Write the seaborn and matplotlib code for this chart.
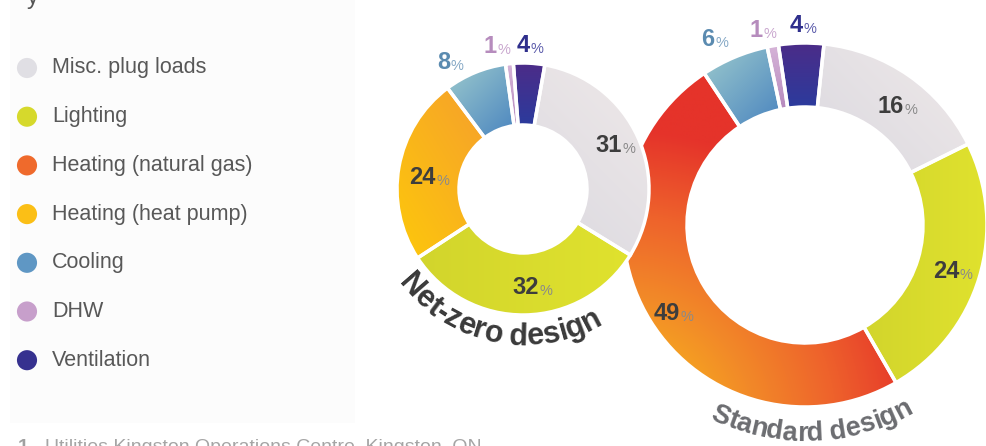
import numpy as np
import pandas as pd
import matplotlib.pyplot as plt
import seaborn as sns
from matplotlib.colors import LinearSegmentedColormap, to_rgb
from matplotlib.patches import Rectangle

# Energy use by end use, % of total
categories = ['Misc. plug loads', 'Lighting', 'Heating (natural gas)', 'Heating (heat pump)',
              'Cooling', 'DHW', 'Ventilation']
net_zero_uses = ['Misc. plug loads', 'Lighting', 'Heating (heat pump)', 'Cooling', 'DHW', 'Ventilation']
net_zero_pct = [31, 32, 24, 8, 1, 4]
standard_uses = ['Misc. plug loads', 'Lighting', 'Heating (natural gas)', 'Cooling', 'DHW', 'Ventilation']
standard_pct = [16, 24, 49, 6, 1, 4]
ring_titles = ['Net-zero design', 'Standard design']
footnote = 'Utilities Kingston Operations Centre, Kingston, ON'

# colours
flat = {'Misc. plug loads': '#e0dfe4', 'Lighting': '#d6d92c', 'Heating (natural gas)': '#ef6a2c',
        'Heating (heat pump)': '#fbbf16', 'Cooling': '#5f97c4', 'DHW': '#c79fcb', 'Ventilation': '#36318f'}
grad = {'Misc. plug loads': ('#dbd9e0', '#efe9e9', (1, 1)),
        'Lighting': ('#d2d52c', '#e0e22e', (1, 0)),
        'Heating (heat pump)': ('#fdc80b', '#f6a02c', (1, 0.6)),
        'Cooling': ('#9ccacd', '#4a84bf', (1, -1)),
        'DHW': ('#d6b4d8', '#b689bd', (0, -1)),
        'Ventilation': ('#4c2c88', '#2b3b9d', (0, -1))}
label_cols = {'Cooling': ('#5b8bb0', '#86a9c6'), 'DHW': ('#b68cbd', '#caa8cf'),
              'Ventilation': ('#2f2f8c', '#5c5cab')}

sns.set_style('white')
plt.rcParams['font.family'] = ['Liberation Sans', 'DejaVu Sans']

W, H = 987, 446
fig = plt.figure(figsize=(9.87, 4.46), dpi=100)
ax = fig.add_axes([0, 0, 1, 1])
renderer = fig.canvas.get_renderer()


def paint(wedge, c0, c1, direction, z):
    bb = wedge.get_path().get_extents()
    X, Y = np.meshgrid(np.linspace(bb.x0, bb.x1, int(bb.width) + 2),
                       np.linspace(bb.y0, bb.y1, int(bb.height) + 2))
    d = np.array(direction, float) / np.hypot(*direction)
    p = X * d[0] + Y * d[1]
    t = ((p - p.min()) / (p.max() - p.min() + 1e-9))[..., None]
    img = (1 - t) * np.array(to_rgb(c0)) + t * np.array(to_rgb(c1))
    im = ax.imshow(img, extent=(bb.x0, bb.x1, bb.y0, bb.y1), origin='lower', zorder=z)
    im.set_clip_path(wedge)
    wedge.set_facecolor('none')


def paint_radial(wedge, origin, z):
    bb = wedge.get_path().get_extents()
    X, Y = np.meshgrid(np.linspace(bb.x0, bb.x1, int(bb.width) + 2),
                       np.linspace(bb.y0, bb.y1, int(bb.height) + 2))
    t = np.clip((np.hypot(X - origin[0], Y - origin[1]) - 50) / 250, 0, 1)
    cmap = LinearSegmentedColormap.from_list('gas', ['#f8b41c', '#f28a28', '#ee622c', '#e5332a'])
    im = ax.imshow(cmap(t)[..., :3], extent=(bb.x0, bb.x1, bb.y0, bb.y1), origin='lower', zorder=z)
    im.set_clip_path(wedge)
    wedge.set_facecolor('none')


def pct_label(c, ang, r, value, cols, fs=17):
    x = c[0] + r * np.cos(np.radians(ang))
    y = c[1] + r * np.sin(np.radians(ang))
    fpx = fs / 0.72
    wn = len(str(value)) * 0.556 * fpx
    wp = 0.889 * fs * 0.62 / 0.72
    split = x + (wn - wp) / 2
    yb = y - 0.36 * fpx
    ax.text(split, yb, str(value), ha='right', va='baseline', fontsize=fs,
            fontweight='bold', color=cols[0], zorder=10)
    ax.text(split + 0.5, yb - 1, '%', ha='left', va='baseline', fontsize=fs * 0.62,
            color=cols[1], zorder=10)


def curved_text(c, txt, r, mid, fs, color):
    widths = []
    for ch in txt:
        t = ax.text(0, 0, 'n' if ch == ' ' else ch, fontsize=fs, fontweight='bold')
        w = t.get_window_extent(renderer).width
        widths.append(w * 0.45 if ch == ' ' else w)
        t.remove()
    a = np.radians(mid) - sum(widths) / r / 2
    cum = 0
    for ch, w in zip(txt, widths):
        ang = a + (cum + w / 2) / r
        ax.text(c[0] + r * np.cos(ang), c[1] + r * np.sin(ang), ch, rotation=np.degrees(ang) + 90,
                rotation_mode='anchor', ha='center', va='baseline', fontsize=fs,
                fontweight='bold', color=color, zorder=10)
        cum += w


rings = [
    dict(uses=net_zero_uses, vals=net_zero_pct, center=(523, H - 189), radius=126, width=62,
         start=80, z=4, title_r=156, title_mid=-101, title_fs=22, title_col='#3a3a3a',
         lab=[(2, 103), (4.5, 97), (2, 95), (7, 148), (4, 147), (0, 146)]),
    dict(uses=standard_uses, vals=standard_pct, center=(805, H - 225), radius=182, width=64,
         start=84, z=2, title_r=216, title_mid=-88, title_fs=19.5, title_col='#6b6c70',
         lab=[(-2.5, 152), (0, 154), (1.6, 158), (3, 208), (2, 201), (-0.6, 202)]),
]

for ring, title in zip(rings[::-1], ring_titles[::-1]):
    wedges, _ = ax.pie(ring['vals'], colors=[flat[u] for u in ring['uses']], startangle=ring['start'],
                       counterclock=False, radius=ring['radius'], center=ring['center'],
                       wedgeprops=dict(width=ring['width'], edgecolor='white', linewidth=2.5,
                                       zorder=ring['z']))
    for w, u, v, (da, r) in zip(wedges, ring['uses'], ring['vals'], ring['lab']):
        if u == 'Heating (natural gas)':
            paint_radial(w, (620, H - 430), ring['z'] - 0.1)
        else:
            paint(w, *grad[u], ring['z'] - 0.1)
        mid = (w.theta1 + w.theta2) / 2
        pct_label(ring['center'], mid + da, r, v, label_cols.get(u, ('#3d3d3d', '#8a8a8a')))
    curved_text(ring['center'], title, ring['title_r'], ring['title_mid'], ring['title_fs'],
                ring['title_col'])

# legend panel
ax.add_patch(Rectangle((10, H - 423), 345, 423, facecolor='#fcfcfc', edgecolor='none', zorder=0))
leg = pd.DataFrame({'use': categories, 'x': 27, 'y': [H - 68 - 48.7 * i for i in range(len(categories))]})
sns.scatterplot(data=leg, x='x', y='y', hue='use', palette=flat, s=210, linewidth=0,
                legend=False, ax=ax, zorder=5)
for _, row in leg.iterrows():
    ax.text(52, row['y'], row['use'], ha='left', va='center', fontsize=15.5, color='#585858')

ax.text(27, H - 4, 'y', ha='left', va='baseline', fontsize=17, color='#555555')
ax.text(18, 7, '1', ha='left', va='top', fontsize=14, fontweight='bold', color='#a0a0a0')
ax.text(45, 7, footnote, ha='left', va='top', fontsize=14, color='#a5a5a5')

ax.set_xlim(0, W)
ax.set_ylim(0, H)
ax.set_aspect('equal')
ax.axis('off')
fig.savefig('out.png', dpi=100, facecolor='white')
